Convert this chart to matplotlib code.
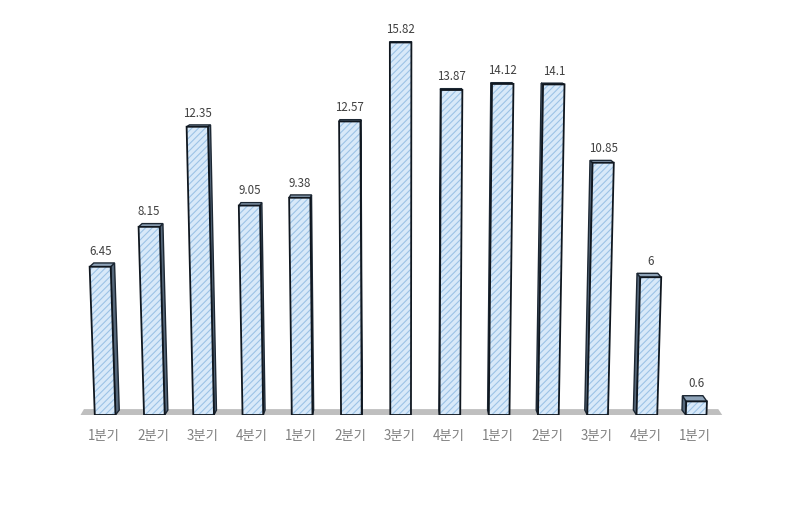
#coding:utf-8
import matplotlib
matplotlib.use('Agg')
import matplotlib.pyplot as plt

categories = ['1분기', '2분기', '3분기', '4분기', '1분기', '2분기', '3분기',
              '4분기', '1분기', '2분기', '3분기', '4분기', '1분기']
values = [6.45, 8.15, 12.35, 9.05, 9.38, 12.57, 15.82, 13.87, 14.12, 14.1, 10.85, 6, 0.6]
value_labels = ['6.45', '8.15', '12.35', '9.05', '9.38', '12.57', '15.82',
                '13.87', '14.12', '14.1', '10.85', '6', '0.6']

plt.rcParams['font.family'] = ['Noto Sans CJK KR', 'DejaVu Sans']
plt.rcParams['hatch.linewidth'] = 0.8

bar_w = 0.21      # half width of a bar
lean = 0.0026     # how far bars spread with height
depth_x = 0.0133  # back face moves toward the middle
floor_depth = 0.21
mid = 6

fig = plt.figure(figsize=(8, 5.13), dpi=100)
ax = fig.add_axes([80.5 / 800, (513 - 415) / 513, 640.25 / 800, 377.6 / 513])
ax.set_xlim(-0.5, 12.5)
ax.set_ylim(0, 16)
ax.axis('off')

# floor
ax.fill([-0.5, 12.53, 12.45, -0.43], [0, 0, floor_depth + 0.04, floor_depth + 0.04],
        color='#bfbfbf', lw=0, zorder=1, clip_on=False)


def height(v):
    # perspective: tall bars come out slightly stretched
    return v * (0.9576 + 0.00254 * v)


def top_depth(v):
    # top face gets flatter the closer it is to eye level
    return 0.25 * (1 - v / 18)


def front_x(x, v):
    return x + (x - mid) * v * lean


def back_x(x, v):
    fx = front_x(x, v)
    return fx - (fx - mid) * depth_x


for i, v in enumerate(values):
    l, r = i - bar_w, i + bar_w
    h = height(v)
    d = top_depth(v)
    # side face
    if i != mid:
        e = r if i < mid else l
        ax.fill([front_x(e, 0), front_x(e, v), back_x(e, v), back_x(e, 0)],
                [0, h, h + d, floor_depth],
                facecolor='#55677a', edgecolor='#1c2733', lw=1, zorder=2)
    # top face
    ax.fill([front_x(l, v), front_x(r, v), back_x(r, v), back_x(l, v)],
            [h, h, h + d, h + d],
            facecolor='#8ea3b8', edgecolor='#1c2733', lw=1, zorder=2)
    # front face
    xs = [front_x(l, 0), front_x(r, 0), front_x(r, v), front_x(l, v)]
    ys = [0, 0, h, h]
    ax.fill(xs, ys, facecolor='#d8e9f9', edgecolor='#9dc3e6', hatch='/////', lw=0, zorder=3)
    ax.fill(xs, ys, facecolor='none', edgecolor='#10171f', lw=1.3, zorder=4)

    ax.annotate(value_labels[i], (front_x(i, v), h + d), xytext=(0, 8.5),
                textcoords='offset points', ha='center', va='center',
                fontsize=8.3, color='#404040', annotation_clip=False)
    ax.annotate(categories[i], (i, 0), xytext=(-1, -15),
                textcoords='offset points', ha='center', va='center',
                fontsize=9.6, color='#808080', annotation_clip=False)

fig.savefig('out.png', dpi=100)
